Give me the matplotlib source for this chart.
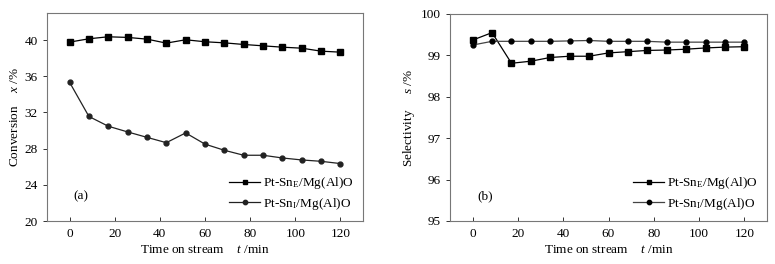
import numpy as np
import matplotlib
matplotlib.use("Agg")
import matplotlib.pyplot as plt

plt.rcParams["font.family"] = ["Liberation Serif", "DejaVu Serif"]
plt.rcParams["mathtext.fontset"] = "custom"
plt.rcParams["mathtext.rm"] = "Liberation Serif"
plt.rcParams["mathtext.it"] = "Liberation Serif:italic"

# Zeit (min)
t = [0, 8.57, 17.14, 25.71, 34.29, 42.86, 51.43, 60, 68.57, 77.14, 85.71, 94.29, 102.86, 111.43, 120]

# Umsatz x / %
conv_E = [39.78, 40.15, 40.37, 40.3, 40.11, 39.67, 40.04, 39.82, 39.7, 39.52, 39.37, 39.22, 39.11, 38.78, 38.67]
conv_I = [35.34, 31.56, 30.48, 29.85, 29.25, 28.66, 29.74, 28.5, 27.82, 27.27, 27.27, 26.97, 26.75, 26.6, 26.35]

# Selektivität s / %
sel_E = [99.37, 99.55, 98.81, 98.86, 98.95, 98.98, 98.98, 99.06, 99.09, 99.12, 99.13, 99.15, 99.18, 99.2, 99.21]
sel_I = [99.25, 99.34, 99.34, 99.34, 99.34, 99.35, 99.36, 99.34, 99.34, 99.34, 99.32, 99.32, 99.32, 99.32, 99.32]

lab_E = r"Pt-Sn$_\mathrm{E}$/Mg(Al)O"
lab_I = r"Pt-Sn$_\mathrm{I}$/Mg(Al)O"

fs = 9.5
fig = plt.figure(figsize=(7.75, 2.64), dpi=100)
ax1 = fig.add_axes([47 / 775, 1 - 221 / 264, 316 / 775, 208 / 264])
ax2 = fig.add_axes([450 / 775, 1 - 221 / 264, 317 / 775, 207 / 264])

def style(ax):
    for s in ax.spines.values():
        s.set_color("#777777")
        s.set_linewidth(0.8)
    ax.tick_params(axis="x", direction="in", length=3, width=0.7, color="#333333",
                   labelsize=fs, top=False, pad=5)
    ax.tick_params(axis="y", direction="out", length=3, width=0.7, color="#333333",
                   labelsize=fs, right=False)
    ax.set_xlim(-10, 130)
    ax.set_xticks(np.arange(0, 121, 20))
    ax.set_xlabel(r"Time on stream    $t$ /min", fontsize=fs, labelpad=3)

ax1.plot(t, conv_E, color="black", lw=0.9, marker="s", ms=3.8, label=lab_E)
ax1.plot(t, conv_I, color="#222222", lw=0.9, marker="o", ms=3.5, label=lab_I)
style(ax1)
ax1.set_ylim(20, 43)
ax1.set_yticks(np.arange(20, 41, 4))
ax1.set_ylabel(r"Conversion    $x$ /%", fontsize=fs, labelpad=3)
ax1.text(0.085, 0.105, "(a)", transform=ax1.transAxes, fontsize=fs)
ax1.legend(loc="lower right", bbox_to_anchor=(1.0, 0.0), frameon=False, fontsize=fs,
           handlelength=2.3, handletextpad=0.25, labelspacing=0.35, borderaxespad=0.3,
           markerscale=0.9)

ax2.plot(t, sel_E, color="black", lw=0.9, marker="s", ms=3.8, label=lab_E)
ax2.plot(t, sel_I, color="#444444", lw=0.9, marker="o", ms=3.5, mfc="black", mec="black", label=lab_I)
style(ax2)
ax2.set_ylim(95, 100)
ax2.set_yticks(np.arange(95, 100.1, 1))
ax2.set_ylabel(r"Selectivity     $s$ /%", fontsize=fs, labelpad=3)
ax2.text(0.085, 0.105, "(b)", transform=ax2.transAxes, fontsize=fs)
ax2.legend(loc="lower right", bbox_to_anchor=(1.0, 0.0), frameon=False, fontsize=fs,
           handlelength=2.3, handletextpad=0.25, labelspacing=0.35, borderaxespad=0.3,
           markerscale=0.9)

fig.savefig("out.png", dpi=100)
